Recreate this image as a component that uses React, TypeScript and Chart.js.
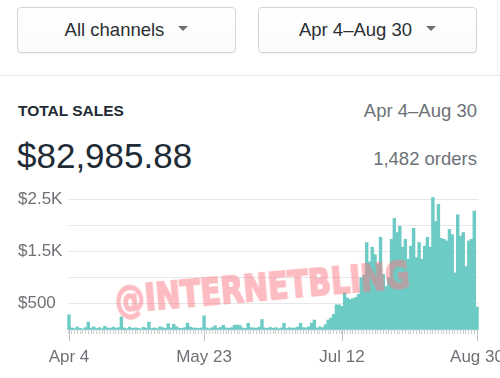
import React, { useEffect, useRef } from "react";
import { Chart, registerables } from "chart.js";

Chart.register(...registerables);

// Month names and day counts for building the daily categories (Apr 4 – Aug 30)
const MONTHS = ["Apr", "May", "Jun", "Jul", "Aug"];
const MONTH_DAYS = [30, 31, 30, 31, 31];
const START_DAY = 4;
const END_DAY = 30;

const CATEGORIES: string[] = [];
MONTHS.forEach((m, mi) => {
  const first = mi === 0 ? START_DAY : 1;
  const last = mi === MONTHS.length - 1 ? END_DAY : MONTH_DAYS[mi];
  for (let d = first; d <= last; d++) CATEGORIES.push(`${m} ${d}`);
});

// Tick labels shown on the x axis
const X_TICK_LABELS = ["Apr 4", "May 23", "Jul 12", "Aug 30"];
// Y tick values with labels (others drawn as unlabeled grid lines)
const Y_TICK_VALUES = [500, 1500, 2500];
const Y_TICK_TEXT = ["$500", "$1.5K", "$2.5K"];

// Daily sales (USD)
// Apr 4 – Apr 30 (27 days)
const SALES_APR = [
  290, 40, 25, 60, 30, 20, 45, 150, 35, 60, 30, 45, 25, 70, 40, 30, 55, 35, 45, 250, 40, 25, 55, 30, 40, 35, 20,
];
// May 1 – May 31 (31 days)
const SALES_MAY = [
  50, 35, 150, 30, 40, 25, 60, 45, 30, 120, 40, 110, 60, 35, 30, 45, 130, 55, 40, 35, 30, 40, 270, 40, 25, 45, 80,
  30, 50, 90, 40,
];
// Jun 1 – Jun 30 (30 days)
const SALES_JUN = [
  35, 45, 90, 95, 85, 40, 30, 130, 45, 40, 35, 55, 200, 40, 30, 50, 35, 45, 25, 40, 130, 30, 45, 35, 40, 55, 130,
  45, 40, 60,
];
// Jul 1 – Jul 31 (31 days)
const SALES_JUL = [
  130, 190, 40, 60, 45, 100, 190, 230, 300, 480, 480, 450, 710, 610, 580, 600, 620, 680, 1000, 1050, 1670, 1300,
  1580, 1440, 1250, 1770, 1060, 830, 1000, 1730, 2130,
];
// Aug 1 – Aug 30 (30 days)
const SALES_AUG = [
  1860, 1980, 1580, 1730, 1350, 1600, 1940, 1380, 1670, 1350, 1600, 1770, 1580, 2530, 2070, 2400, 1750, 1730, 1700,
  1920, 1820, 1090, 2200, 1790, 1860, 1210, 1700, 1730, 2270, 440,
];

const SALES = [...SALES_APR, ...SALES_MAY, ...SALES_JUN, ...SALES_JUL, ...SALES_AUG];

const GRAY = "#6d7175";
const FONT = "'Liberation Sans', Arial, Helvetica, sans-serif";

const majorTicksPlugin = {
  id: "majorTicks",
  afterDraw(chart: any) {
    const xs = chart.scales.x;
    const ctx = chart.ctx;
    const bottom = chart.chartArea.bottom;
    ctx.save();
    ctx.strokeStyle = "#bfc3c6";
    ctx.lineWidth = 1;
    X_TICK_LABELS.forEach((lab) => {
      const idx = CATEGORIES.indexOf(lab);
      if (idx < 0) return;
      const px = Math.round(xs.getPixelForValue(idx)) + 0.5;
      ctx.beginPath();
      ctx.moveTo(px, bottom);
      ctx.lineTo(px, bottom + 11);
      ctx.stroke();
    });
    ctx.restore();
  },
};

function SalesChart() {
  const ref = useRef<HTMLCanvasElement>(null);
  useEffect(() => {
    if (!ref.current) return;
    const chart = new Chart(ref.current, {
      type: "bar",
      data: {
        labels: CATEGORIES,
        datasets: [
          {
            data: SALES,
            backgroundColor: "#6ccbc4",
            borderWidth: 0,
            barPercentage: 1,
            categoryPercentage: 1,
            clip: false as any,
          },
        ],
      },
      options: {
        responsive: false,
        animation: false,
        layout: { padding: { left: 18, top: 14, right: 21.6, bottom: 0 } },
        plugins: { legend: { display: false }, tooltip: { enabled: false } },
        scales: {
          x: {
            type: "category",
            offset: true,
            border: { display: false },
            grid: {
              display: true,
              drawOnChartArea: false,
              drawTicks: true,
              tickLength: 4,
              offset: false,
              color: "#c9cccf",
            },
            ticks: {
              autoSkip: false,
              maxRotation: 0,
              minRotation: 0,
              padding: 13,
              color: GRAY,
              font: { family: FONT, size: 17 },
              callback: (_v: any, i: number) => (X_TICK_LABELS.includes(CATEGORIES[i]) ? CATEGORIES[i] : ""),
            },
            afterFit: (s: any) => {
              s.height = 48;
              s.paddingLeft = 0;
              s.paddingRight = 0;
            },
          },
          y: {
            min: 0,
            max: 2500,
            border: { display: false },
            grid: { color: "#e6e7e8", drawTicks: false, lineWidth: 1 },
            ticks: {
              stepSize: 500,
              padding: 0,
              crossAlign: "far",
              color: GRAY,
              font: { family: FONT, size: 17 },
              callback: (v: any) => {
                const k = Y_TICK_VALUES.indexOf(Number(v));
                return k >= 0 ? Y_TICK_TEXT[k] : "";
              },
            },
            afterFit: (s: any) => {
              s.width = 49.6;
              s.paddingTop = 0;
              s.paddingBottom = 0;
            },
          },
        },
      },
      plugins: [majorTicksPlugin],
    });
    return () => chart.destroy();
  }, []);
  return (
    <canvas
      ref={ref}
      width={500}
      height={193}
      style={{ position: "absolute", left: 0, top: 185, width: 500, height: 193 }}
    />
  );
}

const Caret = () => (
  <span
    style={{
      display: "inline-block",
      width: 0,
      height: 0,
      borderLeft: "5px solid transparent",
      borderRight: "5px solid transparent",
      borderTop: "5px solid #6d7175",
      marginLeft: 14,
      verticalAlign: "middle",
      position: "relative",
      top: -2,
    }}
  />
);

const buttonStyle = (left: number): React.CSSProperties => ({
  position: "absolute",
  left,
  top: 7,
  width: 219,
  height: 46,
  boxSizing: "border-box",
  border: "1px solid #d3d6d9",
  borderRadius: 4,
  background: "linear-gradient(#ffffff, #fafbfb)",
  boxShadow: "0 1px 1px rgba(0,0,0,0.06)",
  display: "flex",
  alignItems: "center",
  justifyContent: "center",
  fontFamily: FONT,
  fontSize: 18.5,
  color: "#2b2f33",
});

export default function App() {
  useEffect(() => {
    document.body.style.margin = "0";
  }, []);
  return (
    <div
      style={{
        position: "absolute",
        left: 0,
        top: 0,
        width: 500,
        height: 378,
        overflow: "hidden",
        background: "#ffffff",
        fontFamily: FONT,
      }}
    >
      <div style={{ position: "absolute", left: 0, top: 0, width: 497, height: 76, borderRight: "1px solid #eceeef" }} />
      <div style={buttonStyle(17)}>
        <span>All channels</span>
        <Caret />
      </div>
      <div style={buttonStyle(258)}>
        <span>Apr 4–Aug 30</span>
        <Caret />
      </div>
      <div style={{ position: "absolute", left: 0, top: 75, width: 500, height: 1, background: "#e6e8ea" }} />

      <div
        style={{
          position: "absolute",
          left: 18,
          top: 101,
          fontSize: 15.5,
          fontWeight: "bold",
          color: "#212b36",
          lineHeight: "20px",
        }}
      >
        TOTAL SALES
      </div>
      <div
        style={{
          position: "absolute",
          right: 23,
          top: 100,
          fontSize: 18.5,
          color: GRAY,
          lineHeight: "22px",
        }}
      >
        Apr 4–Aug 30
      </div>
      <div
        style={{
          position: "absolute",
          left: 17,
          top: 136,
          fontSize: 35,
          color: "#212b36",
          lineHeight: "40px",
        }}
      >
        $82,985.88
      </div>
      <div
        style={{
          position: "absolute",
          right: 23,
          top: 148,
          fontSize: 18.5,
          color: GRAY,
          lineHeight: "22px",
        }}
      >
        1,482 orders
      </div>

      <SalesChart />

      <div
        style={{
          position: "absolute",
          left: 115,
          top: 281,
          fontFamily: "'DejaVu Sans', sans-serif",
          fontWeight: "bold",
          fontSize: 38,
          lineHeight: "38px",
          color: "#f97a85",
          WebkitTextStroke: "2px #f97a85",
          opacity: 0.5,
          transform: "rotate(-5deg) scaleX(0.78)",
          transformOrigin: "left center",
          whiteSpace: "nowrap",
          pointerEvents: "none",
        }}
      >
        @INTERNETBLING
      </div>
    </div>
  );
}
